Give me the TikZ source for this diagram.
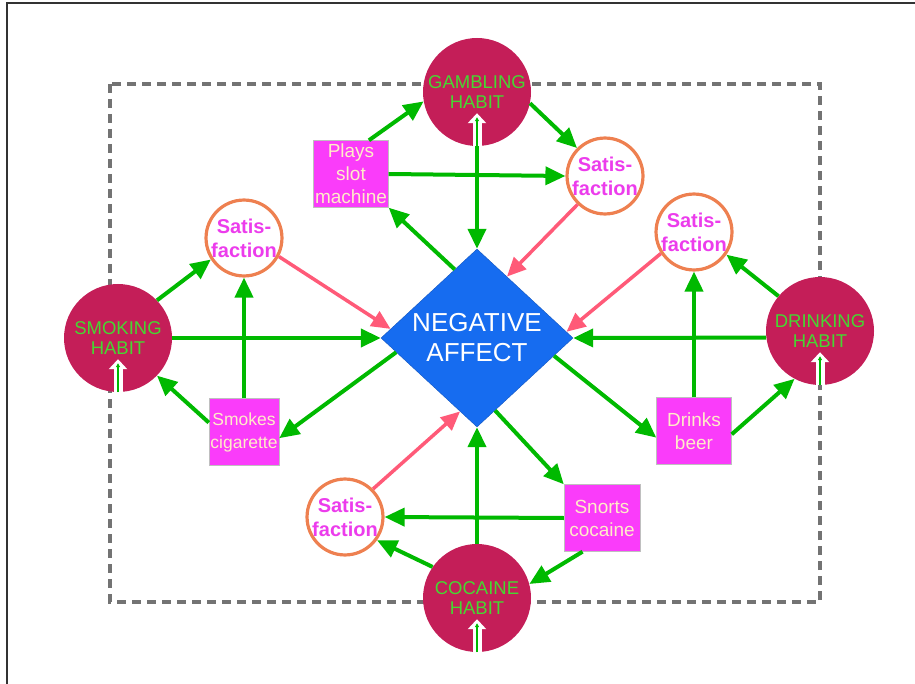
\documentclass[tikz,border=0pt]{standalone}
\usepackage{fontspec}
\setmainfont{Liberation Sans}
\usetikzlibrary{arrows.meta,shapes.geometric}
\definecolor{habitred}{RGB}{196,30,88}
\definecolor{habittext}{RGB}{70,215,50}
\definecolor{linkgreen}{RGB}{0,185,0}
\definecolor{affblue}{RGB}{22,108,240}
\definecolor{satorange}{RGB}{238,128,80}
\definecolor{satmag}{RGB}{236,60,236}
\definecolor{actmag}{RGB}{250,60,250}
\definecolor{acttext}{RGB}{255,236,200}
\definecolor{relpink}{RGB}{255,90,120}
\definecolor{loopgray}{RGB}{115,115,115}

\begin{document}
\begin{tikzpicture}[x=1pt,y=-1pt,
  habit/.style={circle,fill=habitred,minimum size=108pt,inner sep=0pt,text=habittext,align=center,font=\fontsize{18.5}{20}\selectfont},
  satis/.style={circle,draw=satorange,line width=3.2pt,fill=white,minimum size=72pt,inner sep=0pt,text=satmag,align=center,font=\bfseries\fontsize{20}{24}\selectfont},
  act/.style={rectangle,fill=actmag,draw=black!25,minimum width=75pt,minimum height=67pt,inner sep=0pt,text=acttext,align=center,font=\fontsize{19}{23}\selectfont},
  link/.style={draw=linkgreen,line width=4pt,-{Triangle[length=20pt,width=18pt]}},
  relief/.style={draw=relpink,line width=3.5pt,-{Triangle[length=19pt,width=17pt]}},
  feed/.style={white,line width=9pt,-{Triangle[length=10pt,width=18pt]}},
  feedin/.style={linkgreen,line width=1.3pt,-{Triangle[length=4pt,width=4pt]}}]
\useasboundingbox (0,0) rectangle (915,684);
% frame of the slide
\draw[line width=2pt,black!80] (7,684) -- (7,3) -- (915,3);
% loop joining the four habits
\draw[loopgray,line width=3.5pt,dash pattern=on 9pt off 6pt] (110,84) rectangle (820,602);

\node[diamond,fill=affblue,draw=affblue!80!black,line width=0.4pt,minimum width=192pt,minimum height=178pt,inner sep=0pt,
  text=white,align=center,font=\fontsize{26}{30}\selectfont] (aff) at (477,338) {NEGATIVE\\AFFECT};

\node[habit] (gamb) at (477,92) {GAMBLING\\HABIT};
\node[habit] (smok) at (118,338) {SMOKING\\HABIT};
\node[habit] (drink) at (820,331) {DRINKING\\HABIT};
\node[habit] (coc) at (477,598) {COCAINE\\HABIT};

\node[satis] (satTR) at (605,176) {Satis-\\faction};
\node[satis] (satL) at (244,238) {Satis-\\faction};
\node[satis] (satR) at (694,232) {Satis-\\faction};
\node[satis] (satB) at (345,517) {Satis-\\faction};

\node[act] (slot) at (351,174) {Plays\\slot\\machine};
\node[act,minimum width=70pt,font=\fontsize{17.5}{23}\selectfont] (cig) at (244,432) {Smokes\\cigarette};
\node[act] (beer) at (694,431) {Drinks\\beer};
\node[act,minimum width=76pt] (snort) at (602,518) {Snorts\\cocaine};

% gambling
\draw[link] (slot.62) -- (gamb.190);
\draw[link] (gamb.-12) -- (satTR.135);
\draw[link] (slot.east) -- (satTR.west);
\draw[link] (gamb.south) -- (aff.north);
\draw[link] (aff.108) -- (slot.south east);
\draw[relief] (satTR.226) -- (aff.64);
% smoking
\draw[link] (smok.44) -- (satL.213);
\draw[link] (smok.east) -- (aff.west);
\draw[link] (cig.north) -- (satL.south);
\draw[link] (aff.190) -- (cig.-10);
\draw[link] (cig.165) -- (smok.-44);
\draw[relief] (satL.-28) -- (aff.174);
% drinking
\draw[link] (drink.140) -- (satR.-35);
\draw[link] (drink.187) -- (aff.east);
\draw[link] (beer.north) -- (satR.south);
\draw[link] (aff.-13) -- (beer.190);
\draw[link] (beer.-5) -- (drink.242);
\draw[relief] (satR.213) -- (aff.4);
% cocaine
\draw[link] (coc.145) -- (satB.-36);
\draw[link] (coc.north) -- (aff.south);
\draw[link] (snort.west) -- (satB.east);
\draw[link] (aff.-76) -- (snort.north west);
\draw[link] (snort.-120) -- (coc.15);
\draw[relief] (satB.45) -- (aff.257);

% habits feeding back from the loop
\foreach \h in {gamb,smok,drink,coc}{
  \draw[feed] (\h.south) -- ++(0,-33);
  \draw[feedin] (\h.south) -- ++(0,-29);
}
\end{tikzpicture}
\end{document}
